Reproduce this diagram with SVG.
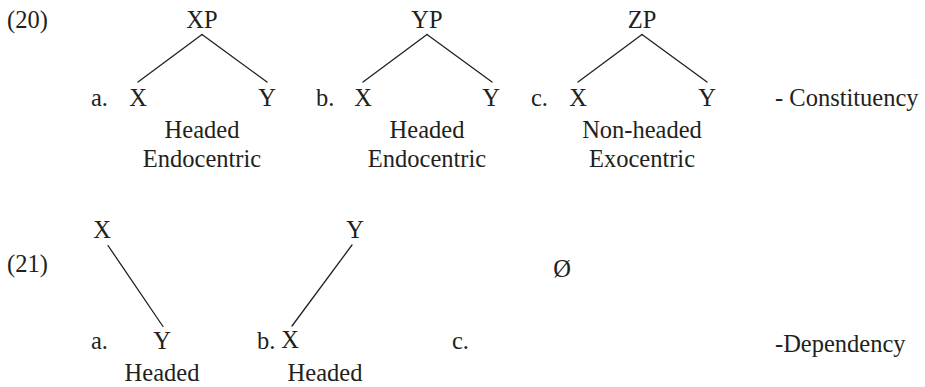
<svg xmlns="http://www.w3.org/2000/svg" width="925" height="387" viewBox="0 0 925 387">
  <style>
    text { font-family: "Liberation Serif", "Times New Roman", serif; font-size: 24.5px; fill: #231f20; }
    .mid { text-anchor: middle; }
    .edge { stroke: #231f20; stroke-width: 1.3; fill: none; stroke-linecap: round; }
  </style>
  <rect width="925" height="387" fill="#ffffff"/>

  <!-- example numbers and labels -->
  <g id="labels">
    <text x="7" y="28">(20)</text>
    <text x="7" y="272">(21)</text>
    <text x="91" y="106">a.</text>
    <text x="316" y="106">b.</text>
    <text x="531" y="106">c.</text>
    <text x="775" y="106">- Constituency</text>
    <text x="91" y="349">a.</text>
    <text x="257" y="349">b.</text>
    <text x="452" y="349">c.</text>
    <text x="775" y="352">-Dependency</text>
  </g>

  <!-- constituency trees -->
  <g id="tree-a">
    <text class="mid" x="202" y="28">XP</text>
    <text class="mid" x="138" y="106">X</text>
    <text class="mid" x="267" y="106">Y</text>
    <text class="mid" x="202" y="138">Headed</text>
    <text class="mid" x="202" y="167">Endocentric</text>
  </g>
  <g id="tree-b">
    <text class="mid" x="427" y="28">YP</text>
    <text class="mid" x="363" y="106">X</text>
    <text class="mid" x="491" y="106">Y</text>
    <text class="mid" x="427" y="138">Headed</text>
    <text class="mid" x="427" y="167">Endocentric</text>
  </g>
  <g id="tree-c">
    <text class="mid" x="642" y="28">ZP</text>
    <text class="mid" x="578" y="106">X</text>
    <text class="mid" x="707" y="106">Y</text>
    <text class="mid" x="642" y="138">Non-headed</text>
    <text class="mid" x="642" y="167">Exocentric</text>
  </g>

  <!-- dependency structures -->
  <g id="dep-a">
    <text class="mid" x="102" y="238">X</text>
    <text class="mid" x="162" y="349">Y</text>
    <text class="mid" x="162" y="381">Headed</text>
  </g>
  <g id="dep-b">
    <text class="mid" x="355" y="238">Y</text>
    <text class="mid" x="290" y="348">X</text>
    <text class="mid" x="325" y="381">Headed</text>
  </g>
  <g id="dep-c">
    <text class="mid" x="562" y="277">Ø</text>
  </g>

  <g id="connectors">
    <line class="edge" x1="202" y1="34.5" x2="138" y2="82"/>
    <line class="edge" x1="202" y1="34.5" x2="267" y2="82"/>
    <line class="edge" x1="427" y1="34.5" x2="363" y2="82"/>
    <line class="edge" x1="427" y1="34.5" x2="492" y2="82"/>
    <line class="edge" x1="642" y1="34.5" x2="578" y2="82"/>
    <line class="edge" x1="642" y1="34.5" x2="707" y2="82"/>
    <line class="edge" x1="108" y1="245.5" x2="163" y2="326.5"/>
    <line class="edge" x1="292" y1="326" x2="352" y2="245"/>
  </g>
</svg>
